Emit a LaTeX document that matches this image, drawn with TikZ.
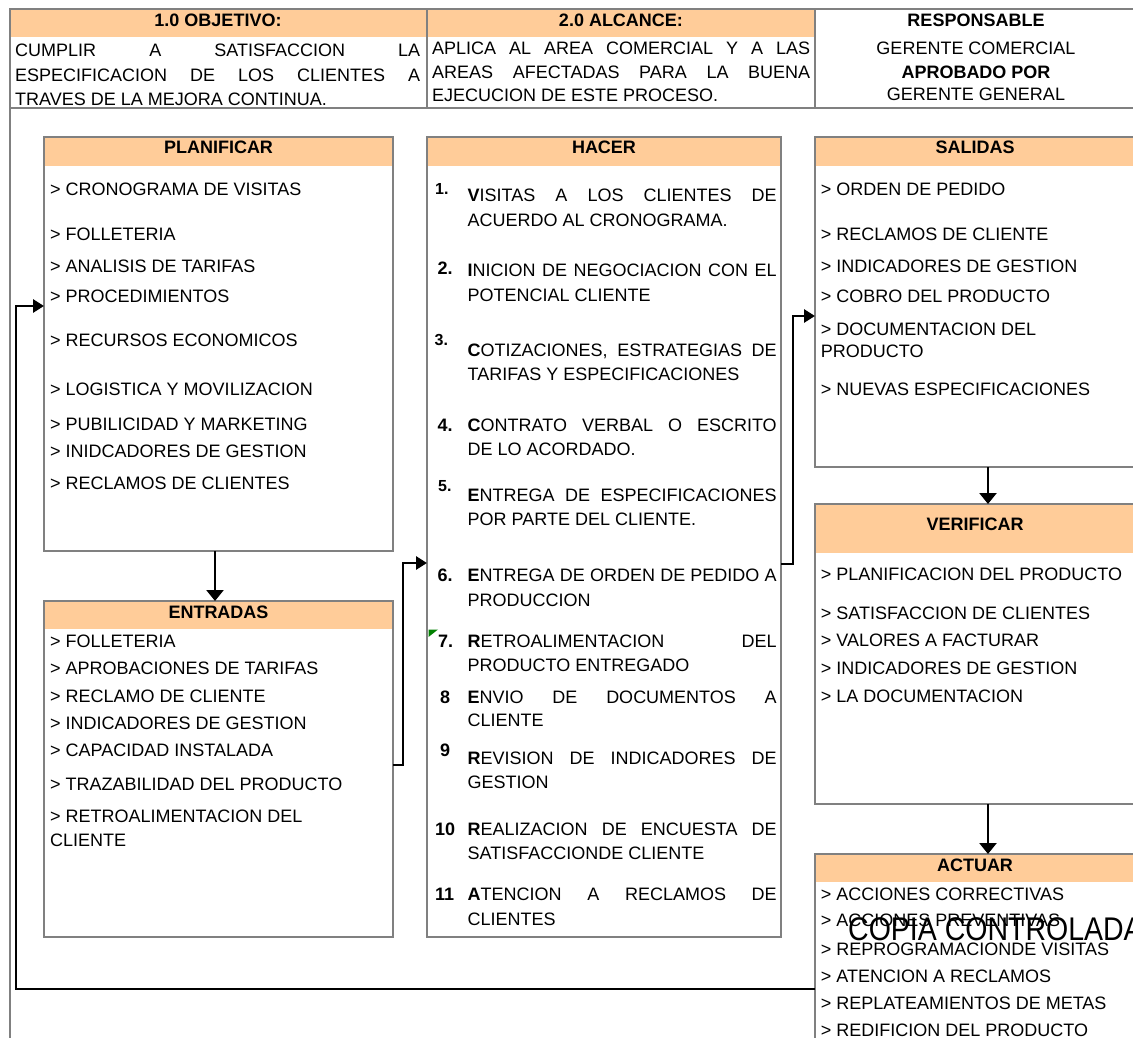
\documentclass[tikz,border=0pt]{standalone}
\usepackage{fontspec}
\setmainfont{Liberation Sans}
\usetikzlibrary{arrows.meta}
\definecolor{bord}{HTML}{808080}
\definecolor{bandc}{HTML}{FFCC99}
\definecolor{notegreen}{HTML}{008000}
\newcommand\myfs{\fontsize{18}{21}\selectfont}
\newcommand\numfs{\fontsize{16}{19}\selectfont}
\newcommand\jl[2]{\makebox[#1pt][s]{#2}}
\begin{document}
\begin{tikzpicture}[x=1pt,y=-1pt,
  txt/.style={anchor=base west,inner sep=0pt,font=\myfs},
  ctxt/.style={anchor=base,inner sep=0pt,font=\myfs},
  ttl/.style={anchor=base,inner sep=0pt,font=\myfs\bfseries},
  num/.style={anchor=base west,inner sep=0pt,font=\myfs\bfseries},
  snum/.style={anchor=base west,inner sep=0pt,font=\numfs\bfseries},
  frame/.style={draw=bord,line width=2.3pt,inner sep=0pt,outer sep=0pt,anchor=north west},
  grid/.style={draw=bord,line width=2.3pt},
  arr/.style={draw=black,line width=2.8pt,-{Triangle[length=11pt,width=13pt]}},
  darr/.style={draw=black,line width=2.6pt,-{Triangle[length=11pt,width=17pt]}}
]
\useasboundingbox (0,0) rectangle (1133,1038);
\clip (0,0) rectangle (1133,1038);
\fill[white] (0,0) rectangle (1133,1038);

% ---------- header ----------
\fill[bandc] (10,9) rectangle (815,37);
\draw[grid] (10,1045) -- (10,9) -- (1145,9);
\draw[grid] (10,108) -- (1145,108);
\draw[grid] (427,9) -- (427,108);
\draw[grid] (815,9) -- (815,108);

\node[ttl] (obj) at (218,26.5) {1.0 OBJETIVO:};
\node[ttl] (alc) at (621,26.5) {2.0 ALCANCE:};
\node[ttl] (resp) at (976,26.7) {RESPONSABLE};
\node[ctxt] (gc) at (976,55) {GERENTE COMERCIAL};
\node[ttl] (apr) at (976,78.3) {APROBADO POR};
\node[ctxt] (gg) at (976,100.7) {GERENTE GENERAL};

\node[txt] (o1) at (15,56.7) {\jl{405}{CUMPLIR A SATISFACCION LA}};
\node[txt] (o2) at (15,81.7) {\jl{405}{ESPECIFICACION DE LOS CLIENTES A}};
\node[txt] (o3) at (15,106) {TRAVES DE LA MEJORA CONTINUA.};

\node[txt] (a1) at (432,55) {\jl{378}{APLICA AL AREA COMERCIAL Y A LAS}};
\node[txt] (a2) at (432,78.3) {\jl{378}{AREAS AFECTADAS PARA LA BUENA}};
\node[txt] (a3) at (432,101.7) {EJECUCION DE ESTE PROCESO.};

% ---------- bands ----------
\fill[bandc] (44,137) rectangle (393,166);
\fill[bandc] (427,137) rectangle (781,166);
\fill[bandc] (815,137) rectangle (1135,166);
\fill[bandc] (44,601) rectangle (393,629);
\fill[bandc] (815,504) rectangle (1135,553);
\fill[bandc] (815,854) rectangle (1135,882);

% ---------- boxes ----------
\node[frame,minimum width=349pt,minimum height=414pt] (plan) at (44,137) {};
\node[frame,minimum width=349pt,minimum height=336pt] (entr) at (44,601) {};
\node[frame,minimum width=354pt,minimum height=800pt] (hacer) at (427,137) {};
\node[frame,minimum width=320pt,minimum height=330pt] (sal) at (815,137) {};
\node[frame,minimum width=320pt,minimum height=300pt] (ver) at (815,504) {};
\node[frame,minimum width=320pt,minimum height=196pt] (act) at (815,854) {};

% ---------- titles ----------
\node[ttl] (tplan) at (218.5,154) {PLANIFICAR};
\node[ttl] (thacer) at (604,154) {HACER};
\node[ttl] (tsal) at (975,154) {SALIDAS};
\node[ttl] (tentr) at (218.5,618.3) {ENTRADAS};
\node[ttl] (tver) at (975,530) {VERIFICAR};
\node[ttl] (tact) at (975,871.7) {ACTUAR};

% ---------- PLANIFICAR ----------
\node[txt] (p1) at (50,195) {> CRONOGRAMA DE VISITAS};
\node[txt] (p2) at (50,240) {> FOLLETERIA};
\node[txt] (p3) at (50,272.7) {> ANALISIS DE TARIFAS};
\node[txt] (p4) at (50,302.7) {> PROCEDIMIENTOS};
\node[txt] (p5) at (50,346.7) {> RECURSOS ECONOMICOS};
\node[txt] (p6) at (50,395) {> LOGISTICA Y MOVILIZACION};
\node[txt] (p7) at (50,430.7) {> PUBILICIDAD Y MARKETING};
\node[txt] (p8) at (50,457.7) {> INIDCADORES DE GESTION};
\node[txt] (p9) at (50,489.7) {> RECLAMOS DE CLIENTES};

% ---------- ENTRADAS ----------
\node[txt] (e1) at (50,647.3) {> FOLLETERIA};
\node[txt] (e2) at (50,674) {> APROBACIONES DE TARIFAS};
\node[txt] (e3) at (50,702) {> RECLAMO DE CLIENTE};
\node[txt] (e4) at (50,729.3) {> INDICADORES DE GESTION};
\node[txt] (e5) at (50,756) {> CAPACIDAD INSTALADA};
\node[txt] (e6) at (50,790) {> TRAZABILIDAD DEL PRODUCTO};
\node[txt] (e7) at (50,822.7) {> RETROALIMENTACION DEL};
\node[txt] (e8) at (50,846.7) {CLIENTE};

% ---------- HACER ----------
\node[snum] (n1) at (435,194) {1.};
\node[txt] (h1a) at (467.5,201.7) {\jl{309}{\textbf{V}ISITAS A LOS CLIENTES DE}};
\node[txt] (h1b) at (467.5,226) {ACUERDO AL CRONOGRAMA.};
\node[num] (n2) at (437.5,274) {2.};
\node[txt] (h2a) at (467.5,276.7) {\jl{309}{\textbf{I}NICION DE NEGOCIACION CON EL}};
\node[txt] (h2b) at (467.5,301.7) {POTENCIAL CLIENTE};
\node[snum] (n3) at (434.5,345) {3.};
\node[txt] (h3a) at (467.5,356) {\jl{309}{\textbf{C}OTIZACIONES, ESTRATEGIAS DE}};
\node[txt] (h3b) at (467.5,380) {TARIFAS Y ESPECIFICACIONES};
\node[num] (n4) at (437.5,431.7) {4.};
\node[txt] (h4a) at (467.5,431.7) {\jl{309}{\textbf{C}ONTRATO VERBAL O ESCRITO}};
\node[txt] (h4b) at (467.5,455.7) {DE LO ACORDADO.};
\node[snum] (n5) at (438,491) {5.};
\node[txt] (h5a) at (467.5,501) {\jl{309}{\textbf{E}NTREGA DE ESPECIFICACIONES}};
\node[txt] (h5b) at (467.5,525) {POR PARTE DEL CLIENTE.};
\node[num] (n6) at (437.5,581.7) {6.};
\node[txt] (h6a) at (467.5,581.7) {\jl{309}{\textbf{E}NTREGA DE ORDEN DE PEDIDO A}};
\node[txt] (h6b) at (467.5,606) {PRODUCCION};
\node[num] (n7) at (438,647.7) {7.};
\node[txt] (h7a) at (467.5,647.7) {\jl{309}{\textbf{R}ETROALIMENTACION DEL}};
\node[txt] (h7b) at (467.5,671.7) {PRODUCTO ENTREGADO};
\node[num] (n8) at (440,703.3) {8};
\node[txt] (h8a) at (467.5,703.3) {\jl{309}{\textbf{E}NVIO DE DOCUMENTOS A}};
\node[txt] (h8b) at (467.5,726.7) {CLIENTE};
\node[num] (n9) at (440,756.7) {9};
\node[txt] (h9a) at (467.5,764) {\jl{309}{\textbf{R}EVISION DE INDICADORES DE}};
\node[txt] (h9b) at (467.5,788.3) {GESTION};
\node[num] (n10) at (435,835) {10};
\node[txt] (h10a) at (467.5,835) {\jl{309}{\textbf{R}EALIZACION DE ENCUESTA DE}};
\node[txt] (h10b) at (467.5,859) {SATISFACCIONDE CLIENTE};
\node[num] (n11) at (435,900.7) {11};
\node[txt] (h11a) at (467.5,900.7) {\jl{309}{\textbf{A}TENCION A RECLAMOS DE}};
\node[txt] (h11b) at (467.5,925.7) {CLIENTES};

\fill[notegreen] (428.5,629.5) -- (438,629.5) -- (428.5,637) -- cycle;

% ---------- SALIDAS ----------
\node[txt] (s1) at (820.7,195) {> ORDEN DE PEDIDO};
\node[txt] (s2) at (820.7,240) {> RECLAMOS DE CLIENTE};
\node[txt] (s3) at (820.7,272.7) {> INDICADORES DE GESTION};
\node[txt] (s4) at (820.7,302.7) {> COBRO DEL PRODUCTO};
\node[txt] (s5) at (820.7,335) {> DOCUMENTACION DEL};
\node[txt] (s6) at (820.7,357.7) {PRODUCTO};
\node[txt] (s7) at (820.7,395) {> NUEVAS ESPECIFICACIONES};

% ---------- VERIFICAR ----------
\node[txt] (v1) at (820.7,580) {> PLANIFICACION DEL PRODUCTO};
\node[txt] (v2) at (820.7,619.3) {> SATISFACCION DE CLIENTES};
\node[txt] (v3) at (820.7,646.7) {> VALORES A FACTURAR};
\node[txt] (v4) at (820.7,674) {> INDICADORES DE GESTION};
\node[txt] (v5) at (820.7,702) {> LA DOCUMENTACION};

% ---------- ACTUAR ----------
\node[txt] (c1) at (820.7,900) {> ACCIONES CORRECTIVAS};
\node[txt] (c2) at (820.7,926.7) {> ACCIONES PREVENTIVAS};
\node[txt] (c3) at (820.7,955) {> REPROGRAMACIONDE VISITAS};
\node[txt] (c4) at (820.7,982.3) {> ATENCION A RECLAMOS};
\node[txt] (c5) at (820.7,1009.3) {> REPLATEAMIENTOS DE METAS};
\node[txt] (c6) at (820.7,1036.7) {> REDIFICION DEL PRODUCTO};

\node[anchor=base west,inner sep=0pt,font=\fontsize{28.5}{30}\selectfont] (wm) at (848,940) {\scalebox{1}[1.15]{COPIA CONTROLADA}};

% ---------- connectors ----------
\draw[darr] ([xshift=-3.5pt]plan.south) -- ([xshift=-3.5pt]entr.north);
\draw[arr] ([yshift=4pt]entr.east) -- ++(10,0) |- ([yshift=-26pt]hacer.west);
\draw[arr] ([yshift=-27pt]hacer.east) -- ++(12,0) |- ([yshift=-14pt]sal.west);
\draw[darr] ([xshift=13pt]sal.south) -- ([xshift=13pt]ver.north);
\draw[darr] ([xshift=13pt]ver.south) -- ([xshift=13pt]act.north);
\draw[arr] ([yshift=-37pt]act.west) -| (16,650) |- ([yshift=38pt]plan.west);
\end{tikzpicture}
\end{document}
